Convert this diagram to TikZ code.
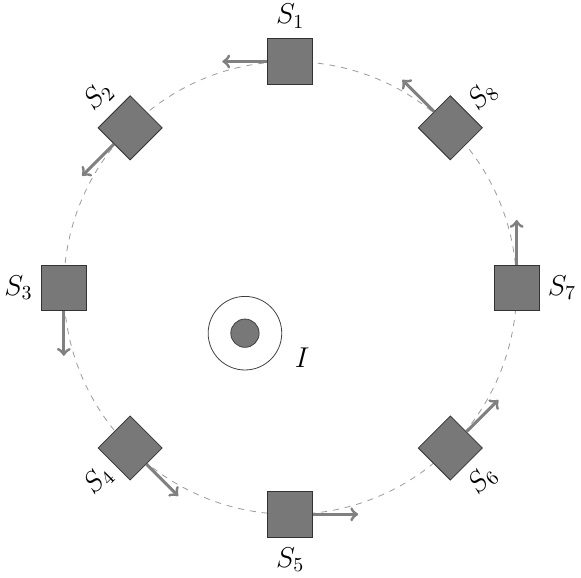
\documentclass[tikz,border=0pt]{standalone}
\begin{document}
\begin{tikzpicture}[sat/.style={shape=rectangle,draw=black!80,fill=black!53,minimum size=0.8cm,inner sep=0pt},orbit/.style={dashed,gray!80},vel/.style={->,gray,line width=1.5pt},slabel/.style={font=\Large}]
\def\r{4};
\def\dl{4.8};
\def\dv{1.2};
\useasboundingbox (-5.128,-5.108) rectangle (5.137,5.087);

\draw[orbit] (0,0) circle (\r);

\node[shape=circle,draw=black!75,minimum size=1.3cm] (ring) at (-0.8,-0.8) {};
\node[shape=circle,draw=black!75,fill=black!53,minimum size=0.5cm] (core) at (ring.center) {};
\node[slabel] (I) at (0.21,-1.24) {$I$};

\foreach \k in {1,...,8} {
  \pgfmathsetmacro\a{90+(\k-1)*45}
  \pgfmathsetmacro\rot{mod(\a,90)}
  \node[sat,rotate=\rot] (S\k) at (\a:\r) {};
  \node[slabel,rotate=\rot] (L\k) at (\a:\dl) {$S_{\k}$};
  \coordinate (V\k) at ([shift={(\a+90:\dv)}]S\k.center);
  \draw[vel] (S\k) -- (V\k);
}
\end{tikzpicture}
\end{document}
